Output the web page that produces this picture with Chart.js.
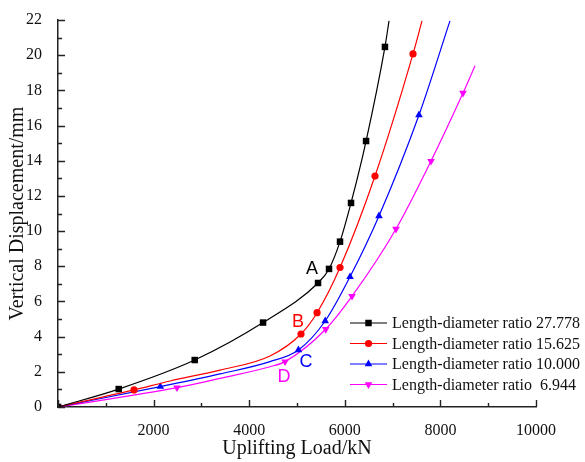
<!DOCTYPE html>
<html>
<head>
<meta charset="utf-8">
<script src="https://cdn.jsdelivr.net/npm/chart.js@4"></script>
<style>body{margin:0;background:#fff}</style>
</head>
<body>
<canvas id="myChart" width="585" height="462"></canvas>
<script>
// marked points (load in kN, displacement in mm)
var loadA = [0, 1270, 2860, 4290, 5440, 5670, 5900, 6130, 6445, 6840];
var dispA = [0, 1.02, 2.67, 4.80, 7.05, 7.85, 9.40, 11.60, 15.12, 20.47];
var loadB = [0, 1590, 5084, 5420, 5900, 6632, 7427];
var dispB = [0, 0.97, 4.15, 5.36, 7.93, 13.13, 20.07];
var loadC = [0, 2140, 5030, 5590, 6109, 6715, 7552];
var dispC = [0, 1.16, 3.24, 4.89, 7.40, 10.86, 16.60];
var loadD = [0, 2490, 4750, 5600, 6151, 7071, 7803, 8473];
var dispD = [0, 1.10, 2.58, 4.42, 6.30, 10.12, 13.98, 17.85];

// unmarked points (between markers and where the line stops)
var traceLoadA = [6925];
var traceDispA = [21.95];
var traceLoadB = [2343, 3389, 4435, 7615];
var traceDispB = [1.48, 2.10, 2.90, 21.95];
var traceLoadC = [3389, 4435, 8200];
var traceDispC = [1.88, 2.58, 21.95];
var traceLoadD = [3389, 4435, 8724];
var traceDispD = [1.63, 2.29, 19.40];

var seriesNames = ['Length-diameter ratio 27.778', 'Length-diameter ratio 15.625',
    'Length-diameter ratio 10.000', 'Length-diameter ratio  6.944'];
var xTicks = [2000, 4000, 6000, 8000, 10000];
var yTicks = [0, 2, 4, 6, 8, 10, 12, 14, 16, 18, 20, 22];

// curve tags A-D, anchored in data units
var tagText = ['A', 'B', 'C', 'D'];
var tagLoad = [5314, 5020, 5190, 4728];
var tagDisp = [7.85, 4.85, 2.56, 1.70];

var colors = ['#000000', '#ff0000', '#0000ff', '#ff00ff'];
var shapes = ['rect', 'circle', 'triangle', 'triangle'];
var rotations = [0, 0, 0, 180];
var radii = [4.6, 3.6, 4.4, 4.4];
var serif = "'Liberation Serif', 'Times New Roman', serif";

function pts(xs, ys) {
    return xs.map(function (x, i) { return {x: x, y: ys[i]}; });
}

var marks = [pts(loadA, dispA), pts(loadB, dispB), pts(loadC, dispC), pts(loadD, dispD)];
var traces = [pts(traceLoadA, traceDispA), pts(traceLoadB, traceDispB),
    pts(traceLoadC, traceDispC), pts(traceLoadD, traceDispD)];

var datasets = [];
marks.forEach(function (m, i) {
    var curve = m.concat(traces[i]).sort(function (p, q) { return p.x - q.x; });
    datasets.push({
        label: seriesNames[i],
        data: curve,
        borderColor: colors[i],
        borderWidth: 1.2,
        pointRadius: 0,
        cubicInterpolationMode: 'monotone',
        fill: false
    });
    datasets.push({
        label: seriesNames[i] + ' markers',
        data: m,
        showLine: false,
        backgroundColor: colors[i],
        borderColor: colors[i],
        pointStyle: shapes[i],
        rotation: rotations[i],
        pointRadius: radii[i],
        pointBorderWidth: 0
    });
});

function drawMark(ctx, shape, rot, r, x, y) {
    ctx.beginPath();
    if (shape === 'rect') {
        var s = r * Math.SQRT1_2;
        ctx.rect(x - s, y - s, 2 * s, 2 * s);
    } else if (shape === 'circle') {
        ctx.arc(x, y, r, 0, Math.PI * 2);
    } else {
        var a = rot * Math.PI / 180;
        for (var k = 0; k < 3; k++) {
            var px = x + Math.sin(a) * r, py = y - Math.cos(a) * r;
            if (k === 0) ctx.moveTo(px, py); else ctx.lineTo(px, py);
            a += 2 * Math.PI / 3;
        }
        ctx.closePath();
    }
    ctx.fill();
}

var extras = {
    id: 'extras',
    afterDraw: function (chart) {
        var ctx = chart.ctx, a = chart.chartArea;
        var xs = chart.scales.x, ys = chart.scales.y;
        ctx.save();
        // inward tick marks
        ctx.strokeStyle = '#222';
        ctx.lineWidth = 1.4;
        ctx.beginPath();
        xs.ticks.forEach(function (t) {
            var px = Math.round(xs.getPixelForValue(t.value)) + 0.5;
            var len = t.value % 2000 === 0 ? 7 : 4;
            ctx.moveTo(px, a.bottom);
            ctx.lineTo(px, a.bottom - len);
        });
        ys.ticks.forEach(function (t) {
            var py = Math.round(ys.getPixelForValue(t.value)) + 0.5;
            var len = t.value % 2 === 0 ? 7 : 4;
            ctx.moveTo(a.left, py);
            ctx.lineTo(a.left + len, py);
        });
        ctx.stroke();

        // curve tags
        ctx.font = "18px 'Liberation Sans', Arial, sans-serif";
        ctx.textAlign = 'center';
        ctx.textBaseline = 'middle';
        tagText.forEach(function (t, i) {
            ctx.fillStyle = colors[i];
            ctx.fillText(t, xs.getPixelForValue(tagLoad[i]), ys.getPixelForValue(tagDisp[i]));
        });

        // legend
        var lx = a.right - 186, ly = a.bottom - 84, step = 20.5;
        ctx.font = '16px ' + serif;
        ctx.textAlign = 'left';
        seriesNames.forEach(function (name, i) {
            var y = ly + i * step;
            ctx.strokeStyle = colors[i];
            ctx.fillStyle = colors[i];
            ctx.lineWidth = 1.2;
            ctx.beginPath();
            ctx.moveTo(lx, y);
            ctx.lineTo(lx + 37, y);
            ctx.stroke();
            drawMark(ctx, shapes[i], rotations[i], radii[i], lx + 18.5, y);
            ctx.fillStyle = '#111';
            ctx.fillText(name, lx + 42, y + 1);
        });
        ctx.restore();
    }
};

var ctx = document.getElementById('myChart').getContext('2d');
var myChart = new Chart(ctx, {
    type: 'line',
    data: { datasets: datasets },
    plugins: [extras],
    options: {
        responsive: false,
        animation: false,
        devicePixelRatio: 1,
        layout: { padding: { left: 0, right: 49, top: 20, bottom: 0 } },
        plugins: {
            legend: { display: false },
            tooltip: { enabled: false }
        },
        scales: {
            x: {
                type: 'linear',
                min: 0,
                max: 10000,
                grid: { display: false },
                border: { display: true, color: '#222', width: 1.5 },
                ticks: {
                    stepSize: 1000,
                    autoSkip: false,
                    maxRotation: 0,
                    padding: 6,
                    color: '#111',
                    font: { family: serif, size: 16 },
                    callback: function (v) { return xTicks.indexOf(v) >= 0 ? String(v) : ''; }
                },
                title: {
                    display: true,
                    text: 'Uplifting Load/kN',
                    color: '#111',
                    font: { family: serif, size: 20 },
                    padding: { top: 0, bottom: 1 }
                },
                afterFit: function (s) { s.height = 55; }
            },
            y: {
                min: 0,
                max: 22,
                grid: { display: false },
                border: { display: true, color: '#222', width: 1.5 },
                ticks: {
                    stepSize: 1,
                    autoSkip: false,
                    padding: 8,
                    color: '#111',
                    font: { family: serif, size: 16 },
                    callback: function (v) { return yTicks.indexOf(v) >= 0 ? String(v) : ''; }
                },
                title: {
                    display: true,
                    text: 'Vertical Displacement/mm',
                    color: '#111',
                    font: { family: serif, size: 20 },
                    padding: { top: 6, bottom: 0 }
                },
                afterFit: function (s) { s.width = 58; }
            }
        }
    }
});
</script>
</body>
</html>
